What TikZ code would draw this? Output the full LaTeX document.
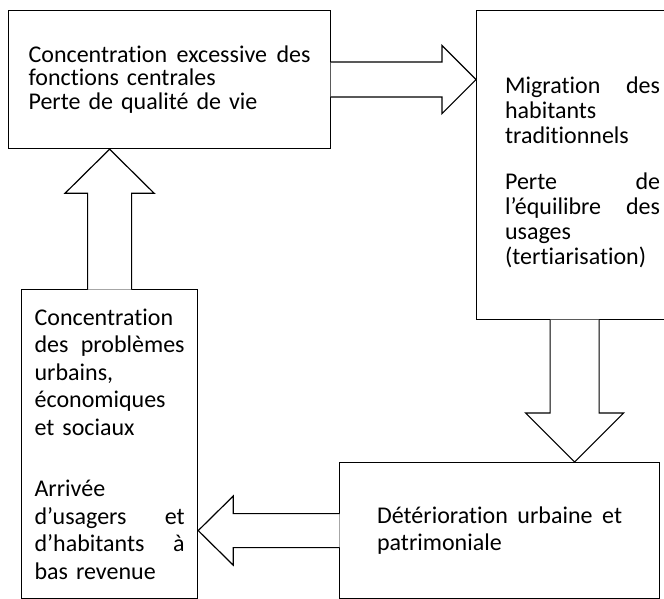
\documentclass[tikz,border=0pt]{standalone}
\usepackage{fontspec}
\setmainfont{Carlito}[Ligatures=NoCommon]
\usetikzlibrary{calc}

\tikzset{
	box/.style={draw, rectangle, line width=1.2pt, anchor=north west,
		inner sep=0pt},
	blockarrow/.style={draw, fill=white, line width=1.2pt, line join=miter},
}

\begin{document}
\begin{tikzpicture}[x=1pt, y=-1pt]
% Page
\useasboundingbox (0,0) rectangle (664,599);
\clip (0,0) rectangle (664,599);

% Boxes
\node[box, minimum width=322pt, minimum height=138pt, text width=282pt,
	align=left, font=\fontsize{24}{23.5}\selectfont]
	(fonctions) at (8,10)
	{Concentration\hfill excessive\hfill des\\fonctions centrales\\Perte de qualité de vie};

\node[box, minimum width=196pt, minimum height=309pt,
	font=\fontsize{24}{25}\selectfont]
	(migration) at (476,10)
	{\hspace*{16pt}\parbox{155pt}{\vspace*{14pt}Migration\hfill des\\habitants\\traditionnels\\[21pt]Perte\hfill de\\l’équilibre\hfill des\\usages\\(tertiarisation)}};

\node[box, minimum width=320pt, minimum height=136pt, text width=245pt,
	align=left, font=\fontsize{24}{27}\selectfont]
	(deterioration) at (339,462)
	{Détérioration\hfill urbaine\hfill et\\patrimoniale};

\node[box, minimum width=176pt, minimum height=309pt, text width=150pt,
	align=left, font=\fontsize{24}{27.5}\selectfont]
	(problemes) at (21,289)
	{Concentration\\des\hfill problèmes\\urbains,\\économiques\\et sociaux\\[34pt]Arrivée\\d’usagers\hfill et\\d’habitants\hfill à\\bas revenue};

% Arrow fonctions -> migration
\coordinate (r-start) at (fonctions.east);
\coordinate (r-tip) at (fonctions.east -| migration.west);
\draw[blockarrow] ($(r-start)+(-0.6,-17.5)$) -- ($(r-tip)+(-34,-17.5)$)
	-- ($(r-tip)+(-34,-34)$) -- (r-tip) -- ($(r-tip)+(-34,34)$)
	-- ($(r-tip)+(-34,17.5)$) -- ($(r-start)+(-0.6,17.5)$);

% Arrow migration -> deterioration
\coordinate (d-start) at (migration.south);
\coordinate (d-tip) at (migration.south |- deterioration.north);
\draw[blockarrow] ($(d-start)+(-24.5,-0.6)$) -- ($(d-tip)+(-24.5,-49)$)
	-- ($(d-tip)+(-49,-49)$) -- (d-tip) -- ($(d-tip)+(49,-49)$)
	-- ($(d-tip)+(24.5,-49)$) -- ($(d-start)+(24.5,-0.6)$);

% Arrow deterioration -> problemes
\coordinate (l-start) at (deterioration.west);
\coordinate (l-tip) at (deterioration.west -| problemes.east);
\draw[blockarrow] ($(l-start)+(0.6,-17)$) -- ($(l-tip)+(35,-17)$)
	-- ($(l-tip)+(35,-34.5)$) -- (l-tip) -- ($(l-tip)+(35,34.5)$)
	-- ($(l-tip)+(35,17)$) -- ($(l-start)+(0.6,17)$);

% Arrow problemes -> fonctions
\coordinate (u-start) at (problemes.north);
\coordinate (u-tip) at (problemes.north |- fonctions.south);
\draw[blockarrow] ($(u-start)+(-22,0.6)$) -- ($(u-tip)+(-22,44)$)
	-- ($(u-tip)+(-44.5,44)$) -- (u-tip) -- ($(u-tip)+(44.5,44)$)
	-- ($(u-tip)+(22,44)$) -- ($(u-start)+(22,0.6)$);
\end{tikzpicture}
\end{document}
